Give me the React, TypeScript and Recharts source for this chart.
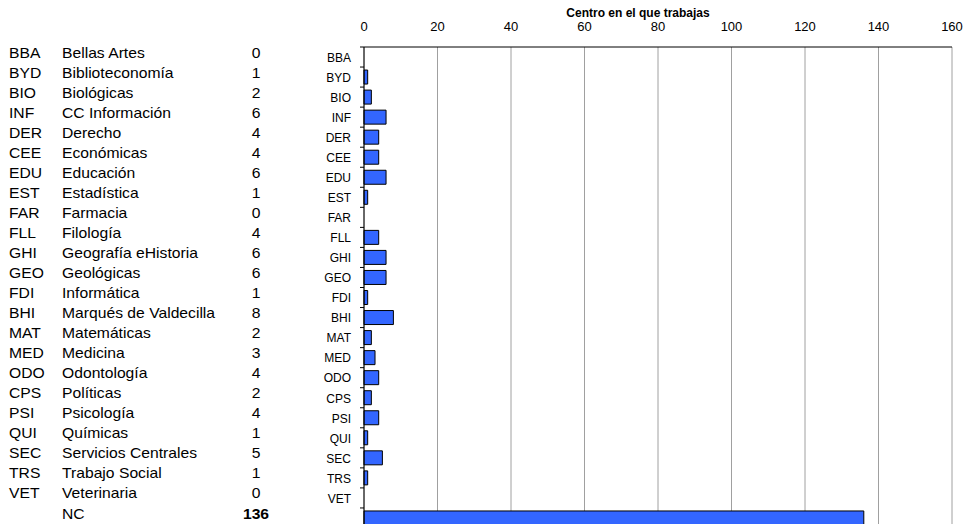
import { BarChart, Bar, XAxis, YAxis, CartesianGrid } from 'recharts';

const codes = ['BBA', 'BYD', 'BIO', 'INF', 'DER', 'CEE', 'EDU', 'EST', 'FAR', 'FLL', 'GHI', 'GEO', 'FDI', 'BHI', 'MAT', 'MED', 'ODO', 'CPS', 'PSI', 'QUI', 'SEC', 'TRS', 'VET', ''];
const names = ['Bellas Artes', 'Biblioteconomía', 'Biológicas', 'CC Información', 'Derecho', 'Económicas', 'Educación', 'Estadística', 'Farmacia', 'Filología', 'Geografía eHistoria', 'Geológicas', 'Informática', 'Marqués de Valdecilla', 'Matemáticas', 'Medicina', 'Odontología', 'Políticas', 'Psicología', 'Químicas', 'Servicios Centrales', 'Trabajo Social', 'Veterinaria', 'NC'];
const counts = [0, 1, 2, 6, 4, 4, 6, 1, 0, 4, 6, 6, 1, 8, 2, 3, 4, 2, 4, 1, 5, 1, 0, 136];
const xTicks = [0, 20, 40, 60, 80, 100, 120, 140, 160];
const title = 'Centro en el que trabajas';

const W = 963;
const H = 540;
const X_AXIS_H = 30;
const M = { top: 17, right: 11, bottom: 12, left: 0 };
const AXIS_W = 364;
const BAND = (H - M.top - X_AXIS_H - M.bottom) / names.length;
const TABLE_SHIFT = -4.5; // the side table sits a bit above the axis labels
const FONT = '"Liberation Sans", Arial, sans-serif';

const data = names.map((name, i) => ({ name, code: codes[i], count: counts[i] }));

function RowTick(props: any) {
  const { x, y, payload } = props;
  const i = names.indexOf(payload.value);
  const top = y - BAND / 2;
  const ty = y + TABLE_SHIFT;
  const isNC = names[i] === 'NC';
  return (
    <g fontFamily={FONT}>
      <line x1={AXIS_W - 4} x2={AXIS_W} y1={top} y2={top} stroke="#000" />
      <text x={x} y={y} dy="0.4em" textAnchor="end" fontSize={12} fill="#000">{codes[i]}</text>
      <g transform={`translate(9,${ty}) scale(1.12,1)`}>
        <text dy="0.36em" fontSize={14} fill="#000">{codes[i]}</text>
      </g>
      <g transform={`translate(62,${ty}) scale(1.12,1)`}>
        <text dy="0.36em" fontSize={14} fill="#000">{names[i]}</text>
      </g>
      <g transform={`translate(256,${ty}) scale(1.12,1)`}>
        <text dy="0.36em" fontSize={14} textAnchor="middle" fontWeight={isNC ? 'bold' : 'normal'} fill="#000">{counts[i]}</text>
      </g>
    </g>
  );
}

export default function App() {
  return (
    <div style={{ position: 'absolute', left: 0, top: 0, width: W, height: 524, overflow: 'hidden', background: '#fff' }}>
      <div style={{ position: 'absolute', left: 638, top: 6, transform: 'translateX(-50%)', font: `bold 12px ${FONT}`, lineHeight: '14px', whiteSpace: 'nowrap', zIndex: 1 }}>
        {title}
      </div>
      <BarChart width={W} height={H} data={data} layout="vertical" margin={M}>
        <CartesianGrid horizontal={false} stroke="#a0a0a0" />
        <XAxis
          type="number"
          orientation="top"
          height={X_AXIS_H}
          domain={[0, 160]}
          ticks={xTicks}
          axisLine={{ stroke: '#000' }}
          tickLine={false}
          tickSize={0}
          tickMargin={16}
          tick={{ fontSize: 13, fill: '#000', fontFamily: FONT }}
        />
        <YAxis
          type="category"
          dataKey="name"
          width={AXIS_W}
          interval={0}
          axisLine={{ stroke: '#000' }}
          tickLine={false}
          tickSize={4}
          tickMargin={9}
          tick={<RowTick />}
        />
        <Bar dataKey="count" fill="#3366FF" stroke="#000" strokeWidth={1} barSize={14} isAnimationActive={false} />
      </BarChart>
    </div>
  );
}
